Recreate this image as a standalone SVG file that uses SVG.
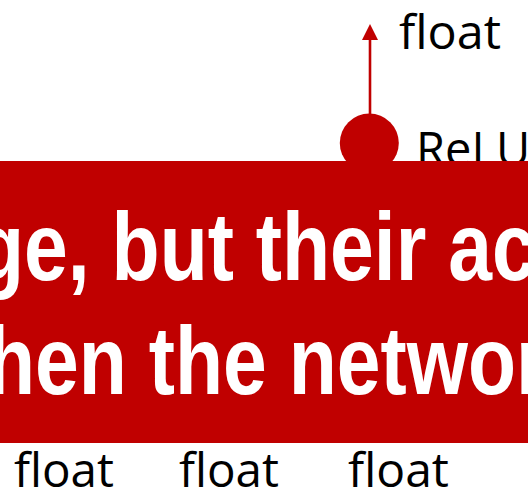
<svg xmlns="http://www.w3.org/2000/svg" width="528" height="491" viewBox="0 0 528 491">
  <defs>
    <style>
      .lbl { font-family: "Open Sans", "Noto Sans", "Liberation Sans", sans-serif; font-size: 47px; fill: #000000; }
      .banner-text { font-family: "Liberation Sans", Arial, sans-serif; font-weight: bold; font-size: 96px; fill: #FFFFFF; }
      .red { fill: #C00000; }
    </style>
    <marker id="arrowhead" markerWidth="16" markerHeight="16" refX="8" refY="15" orient="auto" markerUnits="userSpaceOnUse" viewBox="0 0 16 16">
      <path d="M0,16 L8,0 L16,16 Z" fill="#C00000"/>
    </marker>
  </defs>
  <rect x="0" y="0" width="528" height="491" fill="#FFFFFF"/>

  <g id="connectors">
    <line x1="370" y1="114" x2="370" y2="39" stroke="#C00000" stroke-width="2.6"/>
    <polygon points="370,24 362,40 378,40" fill="#C00000"/>
  </g>

  <g id="output-label">
    <text class="lbl" x="399" y="49" textLength="102" lengthAdjust="spacingAndGlyphs">float</text>
  </g>

  <g id="relu-node">
    <circle class="red" cx="369.3" cy="143" r="29.5"/>
    <text class="lbl" x="416" y="165.5">ReLU</text>
  </g>

  <g id="banner">
    <rect class="red" x="0" y="161" width="528" height="282"/>
    <text class="banner-text" transform="scale(0.82,1)" x="-29.3" y="280">ge, but their ac</text>
    <text class="banner-text" transform="scale(0.82,1)" x="-15.9" y="394">hen the networ</text>
  </g>

  <g id="input-labels">
    <text class="lbl" x="14" y="487" textLength="100" lengthAdjust="spacingAndGlyphs">float</text>
    <text class="lbl" x="179" y="487" textLength="100" lengthAdjust="spacingAndGlyphs">float</text>
    <text class="lbl" x="348" y="487" textLength="101" lengthAdjust="spacingAndGlyphs">float</text>
  </g>
</svg>
